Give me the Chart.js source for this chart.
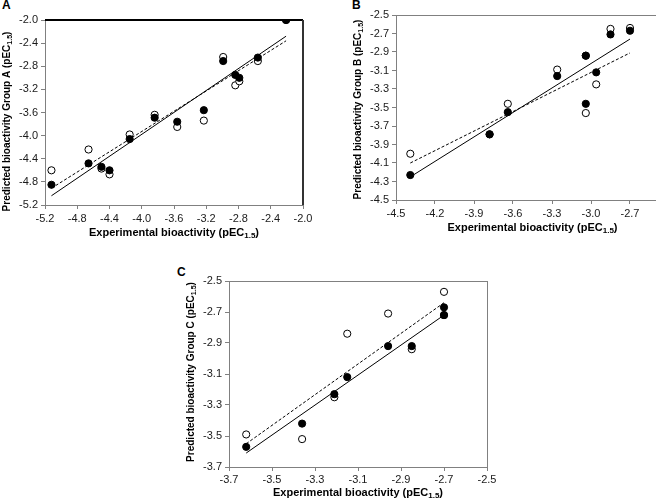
<!DOCTYPE html>
<html>
<head>
<meta charset="utf-8">
<script src="https://cdn.jsdelivr.net/npm/chart.js@4.4.1/dist/chart.umd.min.js"></script>
<style>
  html, body { margin: 0; padding: 0; background: #fff; overflow: hidden; width: 656px; height: 500px; }
  canvas { position: absolute; }
  .tag { position: absolute; font: bold 12px "Liberation Sans", Arial, sans-serif; color: #000; }
</style>
</head>
<body>
<div class="tag" style="left:2px;top:-2px">A</div>
<div class="tag" style="left:352px;top:-2px">B</div>
<div class="tag" style="left:177px;top:265px">C</div>
<canvas id="chartA" width="330" height="250" style="left:0;top:0"></canvas>
<canvas id="chartB" width="380" height="250" style="left:330px;top:0"></canvas>
<canvas id="chartC" width="340" height="250" style="left:160px;top:250px"></canvas>
<script>
// Group A
const expA = [-5.12, -4.66, -4.50, -4.40, -4.15, -3.84, -3.56, -3.23, -2.99, -2.84, -2.79, -2.56, -2.21];
const predFilledA = [-4.85, -4.48, -4.54, -4.60, -4.06, -3.69, -3.76, -3.56, -2.71, -2.95, -3.00, -2.65, -2.00];
const predOpenA = [-4.60, -4.24, -4.57, -4.67, -3.98, -3.64, -3.85, -3.74, -2.64, -3.13, -3.06, -2.71, -2.00];
const fitXA = [-5.12, -2.21];
const fitSolidA = [-5.04, -2.28];
const fitDashA = [-4.91, -2.36];

// Group B
const expB = [-4.39, -3.78, -3.64, -3.26, -3.04, -3.04, -2.96, -2.85, -2.70];
const predFilledB = [-4.23, -3.79, -3.55, -3.16, -2.94, -3.46, -3.12, -2.71, -2.67];
const predOpenB = [-4.00, -3.79, -3.46, -3.09, -2.94, -3.56, -3.25, -2.65, -2.64];
const fitXB = [-4.39, -2.70];
const fitSolidB = [-4.25, -2.76];
const fitDashB = [-4.10, -2.91];

// Group C
const expC = [-3.62, -3.36, -3.21, -3.15, -2.96, -2.85, -2.70, -2.70];
const predFilledC = [-3.57, -3.42, -3.23, -3.12, -2.92, -2.92, -2.67, -2.72];
const predOpenC = [-3.49, -3.52, -3.25, -2.84, -2.71, -2.94, -2.57, -2.72];
const fitXC = [-3.62, -2.70];
const fitSolidC = [-3.61, -2.72];
const fitDashC = [-3.55, -2.64];

const FONT = '"Liberation Sans", Arial, Helvetica, sans-serif';

function pts(xs, ys) {
  return xs.map((x, i) => ({ x: x, y: ys[i] }));
}

// axis title with a subscript part, e.g. pEC1.5
function drawSubText(ctx, parts, x, y, rotate, size) {
  ctx.save();
  ctx.translate(x, y);
  if (rotate) ctx.rotate(-Math.PI / 2);
  const big = "bold " + size + "px " + FONT;
  const small = "bold " + Math.round(size * 0.72) + "px " + FONT;
  ctx.font = big;
  const w1 = ctx.measureText(parts[0]).width;
  const w3 = ctx.measureText(parts[2]).width;
  ctx.font = small;
  const w2 = ctx.measureText(parts[1]).width;
  let cx = -(w1 + w2 + w3) / 2;
  ctx.fillStyle = "#000";
  ctx.textBaseline = "middle";
  ctx.textAlign = "left";
  ctx.font = big;
  ctx.fillText(parts[0], cx, 0);
  cx += w1;
  ctx.font = small;
  ctx.fillText(parts[1], cx, 3);
  cx += w2;
  ctx.font = big;
  ctx.fillText(parts[2], cx, 0);
  ctx.restore();
}

const panelDecor = {
  id: "panelDecor",
  afterDraw(chart, args, opts) {
    const ctx = chart.ctx;
    const a = chart.chartArea;
    ctx.save();
    ctx.lineWidth = 1;
    ctx.strokeStyle = "#808080";
    ctx.strokeRect(a.left + 0.5, a.top + 0.5, a.right - a.left, a.bottom - a.top);
    if (opts.heavy) {
      ctx.lineWidth = 2;
      ctx.strokeStyle = "#000";
      ctx.beginPath();
      ctx.moveTo(a.left, a.top);
      ctx.lineTo(a.right, a.top);
      ctx.stroke();
      ctx.strokeStyle = "#333";
      ctx.beginPath();
      ctx.moveTo(a.right, a.top);
      ctx.lineTo(a.right, a.bottom);
      ctx.stroke();
    }
    ctx.restore();
    drawSubText(ctx, ["Experimental bioactivity (pEC", "1.5", ")"],
      (a.left + a.right) / 2, a.bottom + opts.xOff, false, 11);
    drawSubText(ctx, [opts.yTitle, "1.5", ")"],
      a.left - 38, (a.top + a.bottom) / 2 + opts.yShift, true, 10);
  }
};

function makePanel(id, p) {
  const tickFont = { family: FONT, size: 11 };
  const gridOpts = { drawOnChartArea: false, drawTicks: true, tickLength: 4, color: "#808080" };
  return new Chart(document.getElementById(id), {
    type: "scatter",
    data: {
      datasets: [
        {
          data: pts(p.x, p.filled),
          pointRadius: 3.6,
          pointBackgroundColor: "#000",
          pointBorderColor: "#000",
          pointBorderWidth: 1,
          order: 0
        },
        {
          data: pts(p.x, p.open),
          pointRadius: 3.6,
          pointBackgroundColor: "#fff",
          pointBorderColor: "#000",
          pointBorderWidth: 1,
          order: 1
        },
        {
          data: pts(p.fitX, p.fitSolid),
          showLine: true,
          pointRadius: 0,
          borderColor: "#000",
          borderWidth: 1,
          order: 2
        },
        {
          data: pts(p.fitX, p.fitDash),
          showLine: true,
          pointRadius: 0,
          borderColor: "#000",
          borderWidth: 1,
          borderDash: [3, 2],
          order: 3
        }
      ]
    },
    options: {
      responsive: false,
      animation: false,
      devicePixelRatio: 1,
      layout: { padding: p.padding },
      plugins: {
        legend: { display: false },
        tooltip: { enabled: false },
        panelDecor: { xOff: p.xOff, yTitle: p.yTitle, heavy: p.heavy, yShift: p.yShift }
      },
      scales: {
        x: {
          type: "linear",
          min: p.xr[0],
          max: p.xr[1],
          border: { display: false },
          grid: gridOpts,
          ticks: {
            stepSize: p.xr[2],
            padding: p.xPad,
            color: "#1a1a1a",
            font: tickFont,
            maxRotation: 0,
            callback: (v) => v.toFixed(1)
          },
          afterFit: (s) => { s.height = p.xH; }
        },
        y: {
          type: "linear",
          min: p.yr[0],
          max: p.yr[1],
          border: { display: false },
          grid: gridOpts,
          ticks: {
            stepSize: p.yr[2],
            padding: 3,
            color: "#1a1a1a",
            font: tickFont,
            callback: (v) => v.toFixed(1)
          },
          afterFit: (s) => { s.width = p.yW; }
        }
      }
    },
    plugins: [panelDecor]
  });
}

makePanel("chartA", {
  x: expA, filled: predFilledA, open: predOpenA,
  fitX: fitXA, fitSolid: fitSolidA, fitDash: fitDashA,
  xr: [-5.2, -2.0, 0.4], yr: [-5.2, -2.0, 0.4],
  padding: { top: 20, right: 27, left: 0, bottom: 0 }, yW: 45, xH: 45, xPad: 3,
  xOff: 28, yShift: 9, yTitle: "Predicted bioactivity Group A (pEC", heavy: true
});

makePanel("chartB", {
  x: expB, filled: predFilledB, open: predOpenB,
  fitX: fitXB, fitSolid: fitSolidB, fitDash: fitDashB,
  xr: [-4.5, -2.4, 0.3], yr: [-4.5, -2.5, 0.2],
  padding: { top: 15, right: 41, left: 0, bottom: 0 }, yW: 66, xH: 50, xPad: 3,
  xOff: 28, yShift: 2, yTitle: "Predicted bioactivity Group B (pEC", heavy: false
});

makePanel("chartC", {
  x: expC, filled: predFilledC, open: predOpenC,
  fitX: fitXC, fitSolid: fitSolidC, fitDash: fitDashC,
  xr: [-3.7, -2.5, 0.2], yr: [-3.7, -2.5, 0.2],
  padding: { top: 31, right: 13, left: 0, bottom: 0 }, yW: 69, xH: 33, xPad: 2,
  xOff: 26, yShift: -2, yTitle: "Predicted bioactivity Group C (pEC", heavy: false
});
</script>
</body>
</html>
